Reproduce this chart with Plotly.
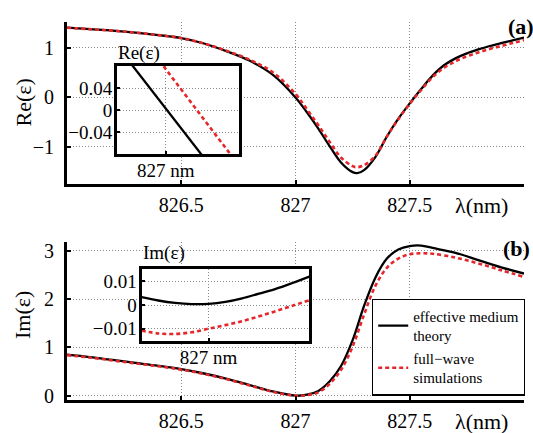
import plotly.graph_objects as go

# ---------------- data ----------------
lam_re = [826.0, 826.1, 826.2, 826.3, 826.4, 826.5, 826.6, 826.7, 826.8, 826.9,
          827.0, 827.05, 827.1, 827.15, 827.2, 827.25, 827.27, 827.3, 827.35, 827.4,
          827.45, 827.5, 827.55, 827.6, 827.65, 827.7, 827.75, 827.8, 827.85, 827.9,
          827.95, 828.0]
re_emt = [1.41, 1.38, 1.35, 1.31, 1.26, 1.20, 1.09, 0.93, 0.74, 0.46,
          0.00, -0.30, -0.63, -0.99, -1.32, -1.51, -1.53, -1.47, -1.20, -0.79,
          -0.43, -0.12, 0.17, 0.44, 0.65, 0.79, 0.89, 0.97, 1.04, 1.10,
          1.155, 1.21]
re_fw = [1.41, 1.38, 1.35, 1.31, 1.26, 1.20, 1.09, 0.94, 0.76, 0.51,
         0.07, -0.24, -0.56, -0.90, -1.22, -1.39, -1.41, -1.37, -1.18, -0.79,
         -0.44, -0.13, 0.15, 0.41, 0.60, 0.73, 0.83, 0.91, 0.98, 1.04,
         1.10, 1.16]

lam_im = [826.0, 826.1, 826.2, 826.3, 826.4, 826.5, 826.6, 826.7, 826.8, 826.9,
          827.0, 827.05, 827.1, 827.15, 827.2, 827.25, 827.3, 827.35, 827.4, 827.45,
          827.5, 827.55, 827.6, 827.7, 827.8, 827.9, 828.0]
im_emt = [0.85, 0.80, 0.74, 0.68, 0.62, 0.55, 0.46, 0.35, 0.22, 0.09,
          0.00, 0.02, 0.10, 0.30, 0.62, 1.15, 1.86, 2.45, 2.84, 3.03,
          3.10, 3.11, 3.06, 2.96, 2.81, 2.66, 2.53]
im_fw = [0.84, 0.79, 0.73, 0.67, 0.61, 0.54, 0.45, 0.34, 0.21, 0.08,
         0.00, 0.01, 0.07, 0.25, 0.54, 1.02, 1.68, 2.28, 2.65, 2.84,
         2.93, 2.95, 2.94, 2.86, 2.74, 2.60, 2.46]

ins_lam_re = [826.98, 826.99, 827.0, 827.01, 827.02, 827.03]
ins_re_emt = [0.117, 0.060, 0.003, -0.054, -0.112, -0.169]
ins_re_fw = [0.191, 0.133, 0.074, 0.016, -0.043, -0.101]

ins_lam_im = [826.98, 826.985, 826.99, 826.995, 827.0, 827.005, 827.01, 827.015,
              827.02, 827.025, 827.03]
ins_im_emt = [0.0033, 0.0019, 0.0009, 0.0004, 0.0005, 0.0013, 0.0028, 0.0048,
              0.0068, 0.0093, 0.0120]
ins_im_fw = [-0.0108, -0.0120, -0.0122, -0.0115, -0.0100, -0.0085, -0.0068, -0.0048,
             -0.0026, -0.0003, 0.0020]

main_xticks = [826.5, 827, 827.5]
re_yticks = [-1, 0, 1]
im_yticks = [0, 1, 2, 3]
ins_re_yticks = [-0.04, 0, 0.04]
ins_re_yticktext = ["\u22120.04", "0", "0.04"]
ins_im_yticks = [-0.01, 0, 0.01]
ins_im_yticktext = ["\u22120.01", "0", "0.01"]
ins_xticks = [827]
ins_xticktext = ["827 nm"]

name_emt = "effective medium<br>theory"
name_fw = "full\u2212wave<br>simulations"

# ---------------- styling ----------------
W, H = 533, 433
FONT = "Liberation Serif, Times New Roman, serif"
BLACK = "#000000"
RED = "#e5262a"
GRID = "#8a8a8a"


def fx(p):
    return p / W


def fy(p):
    return 1 - p / H


black_line = dict(color=BLACK, width=2.3, shape="spline", smoothing=1.0)
red_line = dict(color=RED, width=2.6, dash="4px,3px", shape="spline", smoothing=1.0)

fig = go.Figure()
# panel (a) main
fig.add_trace(go.Scatter(x=lam_re, y=re_emt, xaxis="x", yaxis="y", mode="lines",
                         line=black_line, showlegend=False))
fig.add_trace(go.Scatter(x=lam_re, y=re_fw, xaxis="x", yaxis="y", mode="lines",
                         line=red_line, showlegend=False))
# panel (a) inset
fig.add_trace(go.Scatter(x=ins_lam_re, y=ins_re_emt, xaxis="x2", yaxis="y2", mode="lines",
                         line=dict(color=BLACK, width=2.3), showlegend=False))
fig.add_trace(go.Scatter(x=ins_lam_re, y=ins_re_fw, xaxis="x2", yaxis="y2", mode="lines",
                         line=dict(color=RED, width=2.6, dash="4px,3px"), showlegend=False))
# panel (b) main
fig.add_trace(go.Scatter(x=lam_im, y=im_emt, xaxis="x3", yaxis="y3", mode="lines",
                         line=black_line, name=name_emt, showlegend=True))
fig.add_trace(go.Scatter(x=lam_im, y=im_fw, xaxis="x3", yaxis="y3", mode="lines",
                         line=red_line, name=name_fw, showlegend=True))
# panel (b) inset
fig.add_trace(go.Scatter(x=ins_lam_im, y=ins_im_emt, xaxis="x4", yaxis="y4", mode="lines",
                         line=dict(color=BLACK, width=2.3, shape="spline"), showlegend=False))
fig.add_trace(go.Scatter(x=ins_lam_im, y=ins_im_fw, xaxis="x4", yaxis="y4", mode="lines",
                         line=dict(color=RED, width=2.6, dash="4px,3px", shape="spline"),
                         showlegend=False))

tick_font = dict(family=FONT, size=20, color=BLACK)
ins_font = dict(family=FONT, size=19, color=BLACK)


def main_axis(**kw):
    d = dict(showgrid=True, gridcolor=GRID, griddash="1px,2px", gridwidth=1,
             showline=True, linecolor=BLACK, linewidth=3, mirror=False,
             ticks="inside", ticklen=4, tickwidth=2, tickcolor=BLACK,
             zeroline=False, tickfont=tick_font, fixedrange=True, automargin=False)
    d.update(kw)
    return d


def inset_axis(**kw):
    d = dict(showgrid=True, gridcolor=GRID, griddash="1px,2px", gridwidth=1,
             showline=True, linecolor=BLACK, linewidth=3, mirror=True,
             ticks="inside", ticklen=3, tickwidth=1.5, tickcolor=BLACK,
             zeroline=False, tickfont=ins_font, fixedrange=True, automargin=False)
    d.update(kw)
    return d


# pixel boxes
A_x0, A_x1, A_y0, A_y1 = 67, 524, 22, 184
B_x0, B_x1, B_y0, B_y1 = 67, 524, 241.7, 400
IA_x0, IA_x1, IA_y0, IA_y1 = 117, 239, 66, 154
IB_x0, IB_x1, IB_y0, IB_y1 = 141.5, 309.3, 269, 341

fig.update_layout(
    width=W, height=H, autosize=False,
    margin=dict(l=0, r=0, t=0, b=0, pad=0, autoexpand=False),
    paper_bgcolor="white", plot_bgcolor="white",
    font=dict(family=FONT, color=BLACK),
    xaxis=main_axis(domain=[fx(A_x0), fx(A_x1)], anchor="y", range=[826, 828],
                    tickvals=main_xticks, ticklabelstandoff=1),
    yaxis=main_axis(domain=[fy(A_y1), fy(A_y0)], anchor="x", range=[-1.75, 1.525],
                    tickvals=re_yticks, ticklabelstandoff=6),
    xaxis2=inset_axis(domain=[fx(IA_x0), fx(IA_x1)], anchor="y2", range=[826.98, 827.03],
                      tickvals=ins_xticks, ticktext=ins_xticktext, ticklabelstandoff=-3),
    yaxis2=inset_axis(domain=[fy(IA_y1), fy(IA_y0)], anchor="x2", range=[-0.08, 0.08],
                      tickvals=ins_re_yticks, ticktext=ins_re_yticktext, ticklabelstandoff=-2),
    xaxis3=main_axis(domain=[fx(B_x0), fx(B_x1)], anchor="y3", range=[826, 828],
                     tickvals=main_xticks, ticklabelstandoff=1),
    yaxis3=main_axis(domain=[fy(B_y1), fy(B_y0)], anchor="x3", range=[-0.089, 3.19],
                     tickvals=im_yticks, ticklabelstandoff=6),
    xaxis4=inset_axis(domain=[fx(IB_x0), fx(IB_x1)], anchor="y4", range=[826.98, 827.03],
                      tickvals=ins_xticks, ticktext=ins_xticktext, ticklabelstandoff=-3),
    yaxis4=inset_axis(domain=[fy(IB_y1), fy(IB_y0)], anchor="x4", range=[-0.0152, 0.0152],
                      tickvals=ins_im_yticks, ticktext=ins_im_yticktext, ticklabelstandoff=-2),
    legend=dict(x=fx(372), y=fy(298.5), xanchor="left", yanchor="top",
                bgcolor="white", bordercolor=BLACK, borderwidth=1.2,
                font=dict(family=FONT, size=15, color=BLACK),
                itemwidth=30, tracegroupgap=4, valign="middle"),
)

# white backgrounds behind the insets (hide main grid lines there)
fig.add_shape(type="rect", xref="x", yref="y", layer="between",
              x0=826 + 2 * (IA_x0 - A_x0) / (A_x1 - A_x0),
              x1=826 + 2 * (IA_x1 - A_x0) / (A_x1 - A_x0),
              y0=-1.75 + 3.275 * (A_y1 - IA_y1) / (A_y1 - A_y0),
              y1=-1.75 + 3.275 * (A_y1 - IA_y0) / (A_y1 - A_y0),
              fillcolor="white", line=dict(width=0))
fig.add_shape(type="rect", xref="x3", yref="y3", layer="between",
              x0=826 + 2 * (IB_x0 - B_x0) / (B_x1 - B_x0),
              x1=826 + 2 * (IB_x1 - B_x0) / (B_x1 - B_x0),
              y0=-0.089 + 3.279 * (B_y1 - IB_y1) / (B_y1 - B_y0),
              y1=-0.089 + 3.279 * (B_y1 - IB_y0) / (B_y1 - B_y0),
              fillcolor="white", line=dict(width=0))

lab = dict(family=FONT, size=22, color=BLACK)
ann = [
    dict(text="Re(\u03b5)", x=fx(23), y=fy(102.5), textangle=-90, font=lab),
    dict(text="Im(\u03b5)", x=fx(22), y=fy(315), textangle=-90, font=lab),
    dict(text="\u03bb(nm)", x=fx(481), y=fy(205), font=lab),
    dict(text="\u03bb(nm)", x=fx(481), y=fy(421.5), font=lab),
    dict(text="<b>(a)</b>", x=fx(506), y=fy(26), xanchor="left", font=lab),
    dict(text="<b>(b)</b>", x=fx(501), y=fy(248.5), xanchor="left", font=lab),
    dict(text="Re(\u03b5)", x=fx(116), y=fy(53), xanchor="left", font=ins_font),
    dict(text="Im(\u03b5)", x=fx(140.5), y=fy(253), xanchor="left", font=ins_font),
]
for a in ann:
    a.setdefault("xanchor", "center")
    fig.add_annotation(xref="paper", yref="paper", showarrow=False, yanchor="middle", **a)

fig.write_html("out.html", config={"displayModeBar": False},
               post_script="document.body.style.margin='0';document.body.style.padding='0';")
